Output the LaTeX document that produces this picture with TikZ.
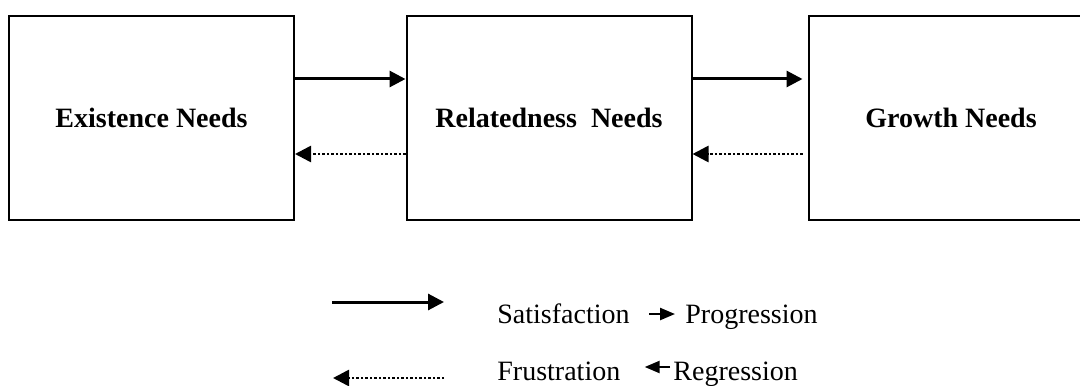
\documentclass[tikz,border=0pt]{standalone}
\usepackage{fontspec}
\setmainfont{Liberation Serif}
\usetikzlibrary{arrows.meta}
\usetikzlibrary{calc}

\begin{document}
\begin{tikzpicture}[x=0.5pt, y=-0.5pt,
            needbox/.style={draw, line width=1pt, minimum width=142.5pt, minimum height=102pt, inner sep=0pt, font=\fontsize{14}{16}\selectfont\bfseries},
            keytext/.style={inner sep=0pt, anchor=base west, font=\fontsize{14}{16}\selectfont},
            progress/.style={line width=1.5pt, -{Triangle[length=8pt, width=8pt]}},
            regress/.style={line width=1.3pt, dash pattern=on 1.2pt off 1.05pt, -{Triangle[length=8pt, width=8pt]}},
            smallarrow/.style={line width=1.2pt, -{Triangle[length=7.5pt, width=6pt]}}]
            \useasboundingbox (0,0) rectangle (1080,385);
            \node[needbox] (E) at (151.5,118) {Existence Needs};
            \node[needbox] (R) at (549,118) {Relatedness~~Needs};
            \node[needbox] (G) at (951,118) {Growth Needs};
            \draw[progress] ([yshift=19.5pt]E.east) -- ([yshift=19.5pt]R.west);
            \draw[progress, shorten >=2.5pt] ([yshift=19.5pt]R.east) -- ([yshift=19.5pt]G.west);
            \draw[regress, shorten <=2.5pt] ([yshift=-18pt]G.west) -- ([yshift=-18pt]R.east);
            \draw[regress] ([yshift=-18pt]R.west) -- ([yshift=-18pt]E.east);
            \coordinate (S1) at (332,302);
            \coordinate (S2) at (444,302);
            \coordinate (F1) at (444,378);
            \coordinate (F2) at (333,378);
            \draw[progress] (S1) -- (S2);
            \draw[regress] (F1) -- (F2);
            \node[keytext] (sat) at (497,323) {Satisfaction};
            \node[keytext] (prog) at (685,323) {Progression};
            \node[keytext] (fru) at (497,380) {Frustration};
            \node[keytext] (reg) at (673,380) {Regression};
            \draw[smallarrow, shorten <=9.5pt, shorten >=5pt] ([yshift=4.5pt]sat.base east) -- ([yshift=4.5pt]prog.base west);
            \draw[smallarrow, shorten <=1.5pt, shorten >=12pt] ([yshift=6.5pt]reg.base west) -- ([yshift=6.5pt]fru.base east);
        \end{tikzpicture}
\end{document}
